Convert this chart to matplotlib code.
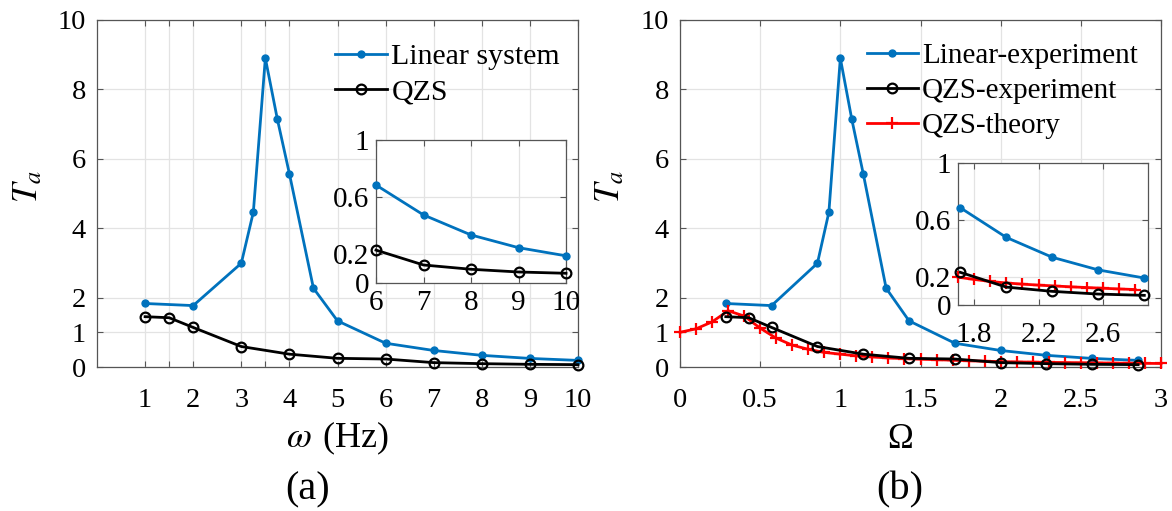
import numpy as np
import matplotlib
matplotlib.use("Agg")
import matplotlib.pyplot as plt

plt.rcParams['font.family'] = ['Liberation Serif', 'DejaVu Serif']
plt.rcParams['mathtext.fontset'] = 'stix'
plt.rcParams['font.size'] = 20.5

# measured data, (a) frequency in Hz
w_lin = [1, 2, 3, 3.25, 3.5, 3.75, 4, 4.5, 5, 6, 7, 8, 9, 10]
t_lin = [1.83, 1.77, 2.99, 4.46, 8.9, 7.14, 5.57, 2.27, 1.33, 0.685, 0.476, 0.336, 0.247, 0.19]
w_qzs = [1, 1.5, 2, 3, 4, 5, 6, 7, 8, 9, 10]
t_qzs = [1.45, 1.42, 1.14, 0.59, 0.37, 0.25, 0.23, 0.126, 0.096, 0.077, 0.068]

# (b) normalised frequency, w / 3.5 Hz
w_n = 3.5
omega_th = [0.0, 0.1, 0.2, 0.3, 0.4, 0.5, 0.6, 0.7, 0.8, 0.9, 1.0, 1.1, 1.2, 1.3, 1.4, 1.5,
            1.6, 1.7, 1.8, 1.9, 2.0, 2.1, 2.2, 2.3, 2.4, 2.5, 2.6, 2.7, 2.8, 2.9, 3.0]
t_th = [1.00, 1.10, 1.30, 1.62, 1.47, 1.12, 0.83, 0.63, 0.51, 0.42, 0.37, 0.32, 0.29, 0.26,
        0.24, 0.225, 0.21, 0.196, 0.18, 0.166, 0.155, 0.147, 0.14, 0.134, 0.128, 0.123,
        0.118, 0.113, 0.109, 0.105, 0.101]

blue = '#0072BD'
W, H = 1172, 511

def box(l, r, t, b):
    return [l / W, 1 - b / H, (r - l) / W, (b - t) / H]

def style(ax, pad):
    ax.grid(True, color='#e3e3e3', lw=0.9)
    ax.set_axisbelow(True)
    ax.tick_params(direction='in', top=True, right=True, length=4, width=0.8,
                   color='#555555', pad=pad)
    for s in ax.spines.values():
        s.set_color('#555555')
        s.set_linewidth(0.9)

def window(x, y, lo, hi):
    # keep only the points inside the zoomed window, so edge markers are not cut
    x = np.asarray(x, float)
    y = np.asarray(y, float)
    m = (x >= lo - 1e-9) & (x <= hi + 1e-9)
    return x[m], y[m]

def draw(ax, xl, yl, xq, yq, theory=None):
    h1, = ax.plot(xl, yl, '-o', color=blue, lw=2, ms=5, mfc=blue, mec=blue,
                  clip_on=False, zorder=3)
    hr = None
    if theory is not None:
        hr, = ax.plot(theory[0], theory[1], '-+', color='red', lw=2, ms=8, mew=1.6,
                      clip_on=False, zorder=3.5)
    h2, = ax.plot(xq, yq, '-o', color='black', lw=2, ms=7, mfc='none', mew=1.6,
                  clip_on=False, zorder=4)
    return h1, h2, hr

fig = plt.figure(figsize=(W / 100, H / 100), dpi=100)

# ---- panel (a)
ax = fig.add_axes(box(97, 578, 20, 367))
style(ax, 15)
ax.tick_params(axis='y', pad=8)
h1, h2, _ = draw(ax, w_lin, t_lin, w_qzs, t_qzs)
ax.set_xlim(0, 10)
ax.set_ylim(0, 10)
xt = [1, 1.5, 2, 3, 3.5, 4, 5, 6, 7, 8, 9, 10]
ax.set_xticks(xt)
ax.set_xticklabels(['' if v % 1 else str(int(v)) for v in xt])
ax.set_yticks([0, 1, 2, 4, 6, 8, 10])
ax.set_xlabel(r'$\omega\;\,$(Hz)', fontsize=26)
ax.xaxis.set_label_coords(0.5, -0.153)
ax.set_ylabel(r'$T_a$', fontsize=25)
ax.yaxis.set_label_coords(-0.108, 0.52)
ax.legend([h1, h2], ['Linear system', 'QZS'], loc='upper right', frameon=False,
          fontsize=21.5, handlelength=1.75, handletextpad=0.15, labelspacing=0.28,
          borderaxespad=0.2, bbox_to_anchor=(1.0, 0.985))

ins = fig.add_axes(box(376, 566, 140, 283))
style(ins, 5)
xl, yl = window(w_lin, t_lin, 6, 10)
xq, yq = window(w_qzs, t_qzs, 6, 10)
draw(ins, xl, yl, xq, yq)
ins.set_xlim(6, 10)
ins.set_ylim(0, 1)
ins.set_xticks([6, 7, 8, 9, 10])
ins.set_yticks([0, 0.2, 0.6, 1])
ins.set_yticklabels(['0', '0.2', '0.6', '1'])
ins.tick_params(labelsize=21)

# ---- panel (b)
bx = fig.add_axes(box(680, 1161, 20, 367))
style(bx, 15)
bx.tick_params(axis='y', pad=8)
om_lin = np.array(w_lin) / w_n
om_qzs = np.array(w_qzs) / w_n
g1, g2, g3 = draw(bx, om_lin, t_lin, om_qzs, t_qzs, theory=(omega_th, t_th))
bx.set_xlim(0, 3)
bx.set_ylim(0, 10)
bx.set_xticks([0, 0.5, 1, 1.5, 2, 2.5, 3])
bx.set_xticklabels(['0', '0.5', '1', '1.5', '2', '2.5', '3'])
bx.set_yticks([0, 1, 2, 4, 6, 8, 10])
bx.set_xlabel('Ω', fontsize=25)
bx.xaxis.set_label_coords(0.457, -0.161)
bx.set_ylabel(r'$T_a$', fontsize=25)
bx.yaxis.set_label_coords(-0.11, 0.52)
bx.legend([g1, g2, g3], ['Linear-experiment', 'QZS-experiment', 'QZS-theory'],
          loc='upper right', frameon=False, fontsize=21, handlelength=1.75,
          handletextpad=0.15, labelspacing=0.3, borderaxespad=0.2,
          bbox_to_anchor=(0.988, 0.985))

ins2 = fig.add_axes(box(958, 1148, 163, 305))
style(ins2, 5)
lo, hi = 1.7, 2.88
xl, yl = window(om_lin, t_lin, lo, hi)
xq, yq = window(om_qzs, t_qzs, lo, hi)
xt_, yt_ = window(omega_th, t_th, lo, hi)
draw(ins2, xl, yl, xq, yq, theory=(xt_, yt_))
ins2.set_xlim(lo, hi)
ins2.set_ylim(0, 1)
ins2.set_xticks([1.8, 2.2, 2.6])
ins2.set_yticks([0, 0.2, 0.6, 1])
ins2.set_yticklabels(['0', '0.2', '0.6', '1'])
ins2.tick_params(labelsize=21)
ins2.tick_params(axis='x', pad=12)

fig.text(308 / W, 1 - 490 / H, '(a)', fontsize=29, ha='center', va='center')
fig.text(900 / W, 1 - 490 / H, '(b)', fontsize=29, ha='center', va='center')

fig.savefig('out.png', dpi=100)
